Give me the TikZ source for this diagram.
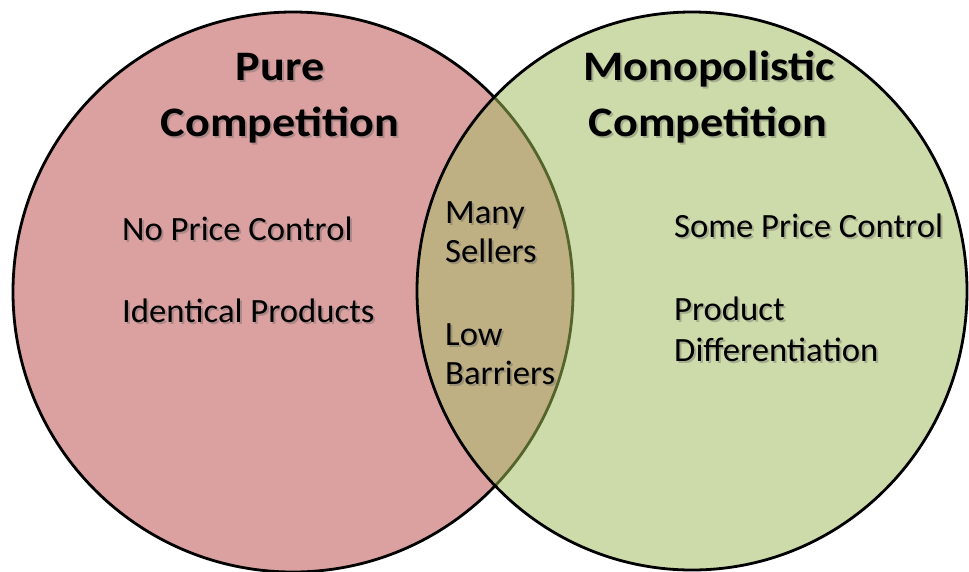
\documentclass[tikz,border=0pt]{standalone}
\usepackage{fontspec}
\setmainfont{Carlito}
\newfontfamily\headfont{Carlito}[FakeStretch=1.1]
\newfontfamily\itemfont{Carlito}[FakeStretch=1.02]
\definecolor{pureFill}{RGB}{219,161,161}
\definecolor{monoFill}{RGB}{205,218,169}
\definecolor{bothFill}{RGB}{191,176,131}
\definecolor{olivEdge}{RGB}{84,100,44}
\definecolor{shade}{RGB}{90,90,90}
% a label with a soft drop shadow behind it
\newcommand\shadowlabel[4]{%
  \node[#2, text=shade, opacity=0.35, xshift=2pt, yshift=-2pt] (#1-sh) at (#3) {#4};
  \node[#2] (#1) at (#3) {#4};}
\begin{document}
\begin{tikzpicture}[x=1pt,y=1pt,
  ring/.style={line width=2.8pt},
  heading/.style={font=\headfont\bfseries\fontsize{42}{48}\selectfont, anchor=base, inner sep=0pt},
  item/.style={font=\itemfont\fontsize{34}{40}\selectfont, anchor=base west, inner sep=0pt},
]
\useasboundingbox (0,0) rectangle (969,-571);
\fill[white] (0,0) rectangle (969,-571);

% the two sets
\coordinate (pc) at (293,-292);
\coordinate (mc) at (692,-291);
\fill[pureFill] (pc) circle [x radius=280, y radius=280];
\fill[monoFill] (mc) circle [x radius=275, y radius=279];
\begin{scope}
  \clip (pc) circle [x radius=280, y radius=280];
  \fill[bothFill] (mc) circle [x radius=275, y radius=279];
\end{scope}
% outlines: the left rim turns olive where it runs through the right set
\begin{scope}
  \clip (0,0) rectangle (969,-571);
  \begin{scope}[even odd rule]
    \clip (mc) circle [x radius=275, y radius=279] (-10,10) rectangle (980,-590);
    \draw[ring] (pc) circle [x radius=280, y radius=280];
  \end{scope}
  \begin{scope}
    \clip (mc) circle [x radius=275, y radius=279];
    \draw[ring, olivEdge] (pc) circle [x radius=280, y radius=280];
  \end{scope}
  \draw[ring] (mc) circle [x radius=275, y radius=279];
\end{scope}

% headings
\shadowlabel{pure1}{heading}{280,-80}{Pure}
\shadowlabel{pure2}{heading}{280,-136}{Competition}
\shadowlabel{mono1}{heading}{709,-80}{Monopolistic}
\shadowlabel{mono2}{heading}{708,-136}{Competition}

% pure competition only
\shadowlabel{noprice}{item}{122,-240}{No Price Control}
\shadowlabel{ident}{item}{122,-322}{Identical Products}

% shared traits
\shadowlabel{many}{item}{445,-223}{Many}
\shadowlabel{sellers}{item}{445,-262}{Sellers}
\shadowlabel{low}{item}{445,-345}{Low}
\shadowlabel{barriers}{item}{445,-384}{Barriers}

% monopolistic competition only
\shadowlabel{someprice}{item}{674,-237}{Some Price Control}
\shadowlabel{product}{item}{674,-320}{Product}
\shadowlabel{diff}{item}{674,-361}{Differentiation}
\end{tikzpicture}
\end{document}
